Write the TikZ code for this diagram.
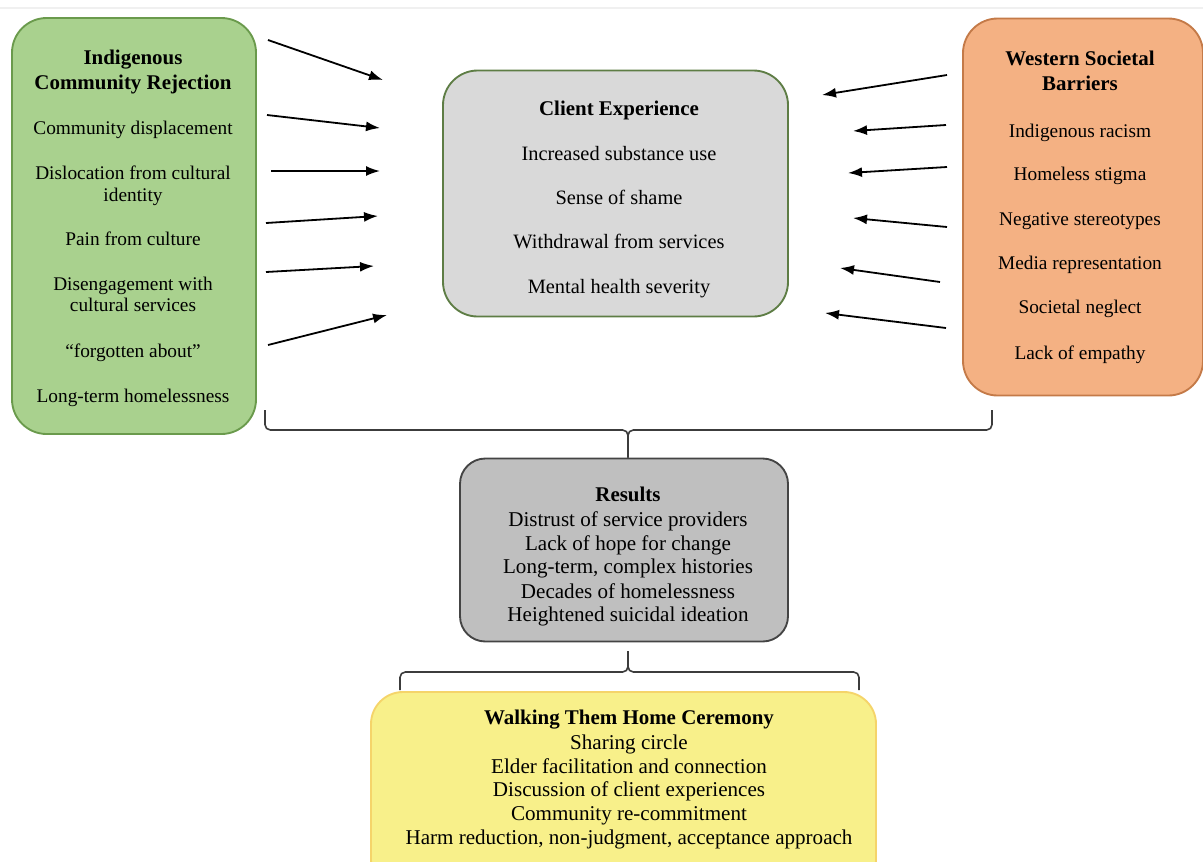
\documentclass[tikz,border=0pt]{standalone}
\usepackage{fontspec}
\setmainfont{Liberation Serif}
\usetikzlibrary{arrows.meta}
\definecolor{gfill}{HTML}{A9D18E}
\definecolor{gdraw}{HTML}{6A9A4C}
\definecolor{ofill}{HTML}{F4B183}
\definecolor{odraw}{HTML}{C47A48}
\definecolor{cfill}{HTML}{D9D9D9}
\definecolor{cdraw}{HTML}{5E7D45}
\definecolor{rfill}{HTML}{BFBFBF}
\definecolor{rdraw}{HTML}{444444}
\definecolor{yfill}{HTML}{F8F08A}
\definecolor{ydraw}{HTML}{F5D46A}
\definecolor{brc}{HTML}{3C3C3C}
\tikzset{
  box/.style={draw, line width=1.4pt, inner sep=0pt},
  side/.style={anchor=base, inner sep=0pt, font=\fontsize{14.5}{17}\selectfont},
  mid/.style={anchor=base, inner sep=0pt, font=\fontsize{15.3}{18}\selectfont},
  low/.style={anchor=base, inner sep=0pt, font=\fontsize{15.8}{18}\selectfont},
  ttl/.style={anchor=base, inner sep=0pt, font=\fontsize{15.7}{18}\selectfont\bfseries},
  arr/.style={line width=1.35pt, -{Latex[length=10.5pt,width=7.5pt]}},
  brace/.style={draw=brc, line width=1.2pt, rounded corners=4pt}
}
\begin{document}
\begin{tikzpicture}[x=0.75pt,y=-0.75pt]
\useasboundingbox (0,0) rectangle (1203,861);
\clip (0,0) rectangle (1203,861);
\draw[gray!12, line width=0.8pt] (0,8) -- (1203,8);

% boxes
\node[box, fill=gfill, draw=gdraw, rounded corners=26pt,
  minimum width=244*0.75pt, minimum height=416*0.75pt] (green) at (134,226) {};
\node[box, fill=ofill, draw=odraw, rounded corners=26pt,
  minimum width=240*0.75pt, minimum height=377*0.75pt] (orange) at (1083,207) {};
\node[box, fill=cfill, draw=cdraw, rounded corners=26pt,
  minimum width=345*0.75pt, minimum height=246*0.75pt] (client) at (615.5,193.5) {};
\node[box, fill=rfill, draw=rdraw, rounded corners=19pt,
  minimum width=328*0.75pt, minimum height=183*0.75pt] (results) at (624,550) {};
\node[box, fill=yfill, draw=ydraw, rounded corners=24pt,
  minimum width=505*0.75pt, minimum height=200*0.75pt] (walk) at (623.5,792) {};

% green texts
\node[ttl] (gt1) at (133,64) {Indigenous};
\node[ttl] (gt2) at (133,89) {Community Rejection};
\node[side] (g1) at (133,134) {Community displacement};
\node[side] (g2) at (133,179) {Dislocation from cultural};
\node[side] (g2b) at (133,201) {identity};
\node[side] (g3) at (133,245) {Pain from culture};
\node[side] (g4) at (133,290) {Disengagement with};
\node[side] (g4b) at (133,311) {cultural services};
\node[side] (g5) at (133,357) {“forgotten about”};
\node[side] (g6) at (133,402) {Long-term homelessness};

% orange texts
\node[ttl] (ot1) at (1080,65) {Western Societal};
\node[ttl] (ot2) at (1080,90) {Barriers};
\node[side] (o1) at (1080,137) {Indigenous racism};
\node[side] (o2) at (1080,180) {Homeless stigma};
\node[side] (o3) at (1080,225) {Negative stereotypes};
\node[side] (o4) at (1080,269) {Media representation};
\node[side] (o5) at (1080,313) {Societal neglect};
\node[side] (o6) at (1080,359) {Lack of empathy};

% client texts
\node[ttl] (ct) at (619,115) {Client Experience};
\node[mid] (c1) at (619,160) {Increased substance use};
\node[mid] (c2) at (619,204) {Sense of shame};
\node[mid] (c3) at (619,248) {Withdrawal from services};
\node[mid] (c4) at (619,293) {Mental health severity};

% results texts
\node[ttl] (rt) at (628,501) {Results};
\node[low] (r1) at (628,526) {Distrust of service providers};
\node[low] (r2) at (628,550) {Lack of hope for change};
\node[low] (r3) at (628,573) {Long-term, complex histories};
\node[low] (r4) at (628,598) {Decades of homelessness};
\node[low] (r5) at (628,621) {Heightened suicidal ideation};

% walking texts
\node[ttl] (wt) at (629,724) {Walking Them Home Ceremony};
\node[low] (w1) at (629,749) {Sharing circle};
\node[low] (w2) at (629,773) {Elder facilitation and connection};
\node[low] (w3) at (629,796) {Discussion of client experiences};
\node[low] (w4) at (629,820) {Community re-commitment};
\node[low] (w5) at (629,844) {Harm reduction, non-judgment, acceptance approach};

% left arrows
\coordinate (la1) at (268,40);  \coordinate (lb1) at (383,80);
\coordinate (la2) at (267,115); \coordinate (lb2) at (380,128);
\coordinate (la3) at (271,171); \coordinate (lb3) at (380,171);
\coordinate (la4) at (266,223); \coordinate (lb4) at (378,216);
\coordinate (la5) at (266,272); \coordinate (lb5) at (374,266);
\coordinate (la6) at (268,345); \coordinate (lb6) at (387,315);
\foreach \i in {1,...,6} \draw[arr] (la\i) -- (lb\i);

% right arrows
\coordinate (ra1) at (947,75);  \coordinate (rb1) at (822,95);
\coordinate (ra2) at (946,125); \coordinate (rb2) at (853,131);
\coordinate (ra3) at (947,167); \coordinate (rb3) at (848,173);
\coordinate (ra4) at (947,227); \coordinate (rb4) at (853,218);
\coordinate (ra5) at (940,282); \coordinate (rb5) at (840,268);
\coordinate (ra6) at (946,328); \coordinate (rb6) at (825,313);
\foreach \i in {1,...,6} \draw[arr] (ra\i) -- (rb\i);

% upper brace
\coordinate (ub1) at (265,410);
\coordinate (ub2) at (992,410);
\coordinate (ubc) at (628,430);
\path[brace] (ub1) |- (ubc) -- (results.north -| ubc);
\path[brace] (ub2) |- (ubc) -- (results.north -| ubc);

% lower brace
\coordinate (lw1) at (400,690);
\coordinate (lw2) at (859,690);
\coordinate (lwc) at (628,672);
\path[brace] (lw1) |- (lwc) -- (628,651);
\path[brace] (lw2) |- (lwc) -- (628,651);
\end{tikzpicture}
\end{document}
